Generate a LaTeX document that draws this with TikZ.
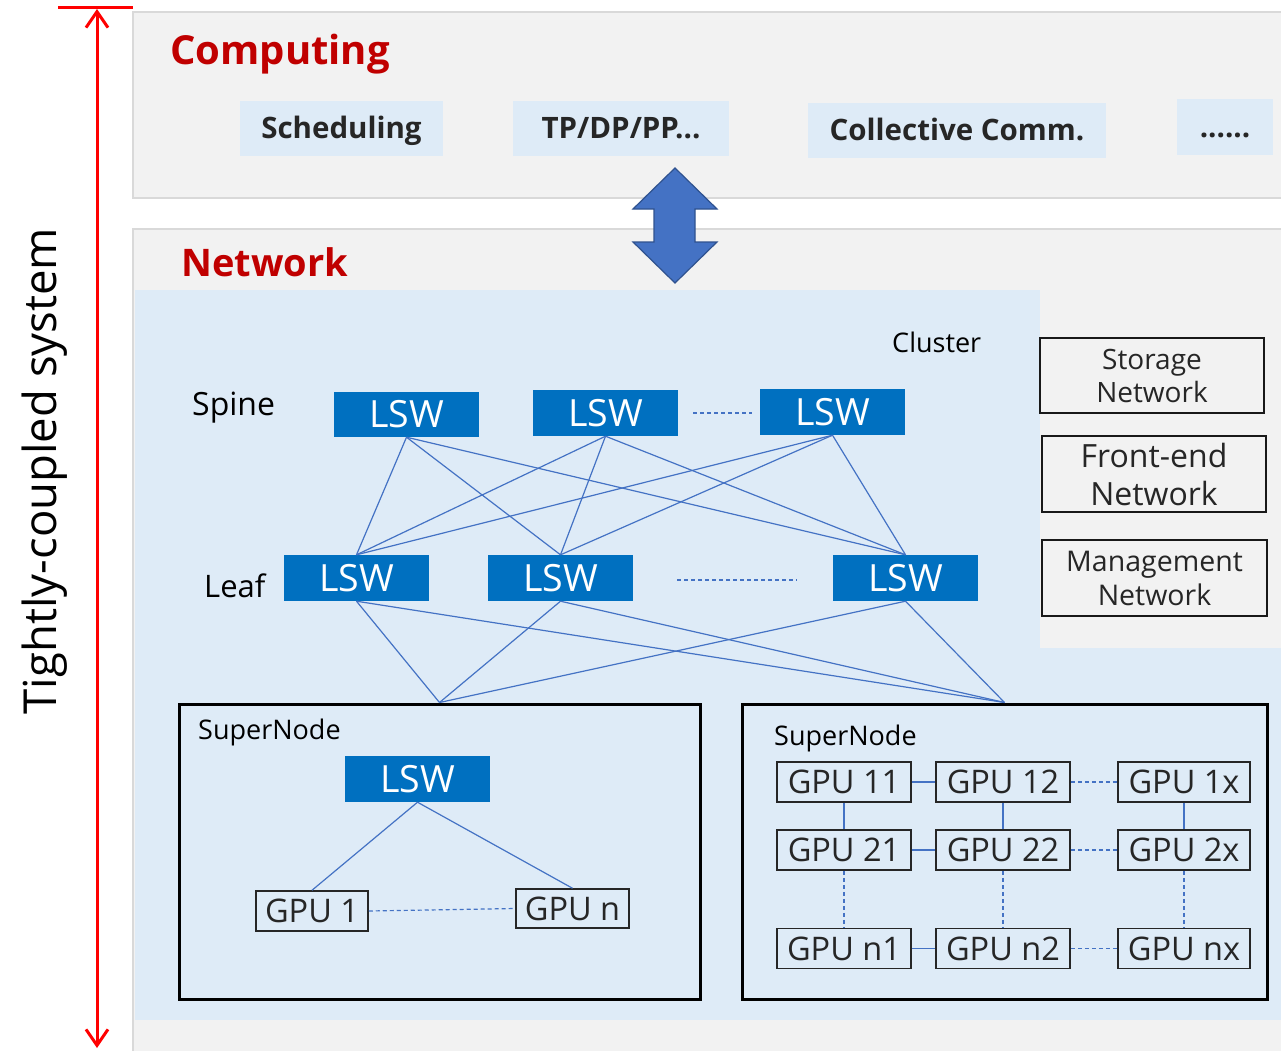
\documentclass[tikz,border=0pt]{standalone}
\usepackage{fontspec}
\setmainfont{Open Sans}
\usetikzlibrary{arrows.meta}
\definecolor{panelgray}{HTML}{F2F2F2}
\definecolor{panelrule}{HTML}{D9D9D9}
\definecolor{paleblue}{HTML}{DEEBF7}
\definecolor{lswblue}{HTML}{0070C0}
\definecolor{linkblue}{HTML}{4472C4}
\definecolor{arrowrim}{HTML}{2F528F}
\definecolor{titlered}{HTML}{C00000}
\definecolor{inktext}{HTML}{262626}
\newcommand\fsz[2]{\fontsize{#1}{#2}\selectfont}
\begin{document}
\begin{tikzpicture}[x=1pt,y=-1pt,
  panel/.style={fill=panelgray, draw=panelrule, line width=2pt},
  task/.style={fill=paleblue, text=inktext, font=\bfseries\fsz{29.5}{35}, inner sep=0pt,
               text height=21pt, text depth=0pt},
  lsw/.style={fill=lswblue, text=white, font=\fsz{37.5}{44}, inner sep=0pt,
              minimum width=145pt, minimum height=46pt},
  gpu/.style={draw=inktext, line width=1.5pt, text=inktext, font=\fsz{32.5}{38},
              inner sep=0pt, minimum width=134pt, minimum height=40pt},
  link/.style={draw=linkblue, line width=1.2pt},
  dlink/.style={link, dash pattern=on 4pt off 3pt},
  group/.style={draw=black, line width=3pt, inner sep=0pt},
  netbox/.style={draw=black!90, line width=2.5pt, align=center, inner sep=0pt, text=inktext},
  tag/.style={inner sep=0pt, text=black},
  title/.style={inner sep=0pt, text=titlered, font=\bfseries\fsz{40}{48}}
]
\useasboundingbox (0,0) rectangle (1281,1051);

% layer panels
\draw[panel] (133,12) rectangle (1295,198);
\draw[panel] (133,229) rectangle (1295,1065);
\fill[paleblue] (135,290) rectangle (1281,1020);
\fill[panelgray] (1040,290) rectangle (1281,648);

% height marker of the tightly-coupled system
\draw[red, line width=3pt] (58,8) -- (133,8);
\coordinate (mtop) at (97,9);
\coordinate (mbot) at (97,1048);
\draw[red, line width=3pt, {Straight Barb[length=16pt,width=22pt]}-{Straight Barb[length=16pt,width=22pt]}] (mtop) -- (mbot);
\node[rotate=90, anchor=base, inner sep=0pt, font=\fsz{45.5}{55}] (tcs) at (56,471) {Tightly-coupled system};

% computing layer
\node[title, anchor=base west] (comp) at (170,65) {Computing};
\node[task, minimum width=203pt, minimum height=55pt] (sched) at (341.5,128.5) {Scheduling};
\node[task, minimum width=216pt, minimum height=55pt] (par) at (621,128.5) {TP/DP/PP...};
\node[task, minimum width=298pt, minimum height=55pt] (coll) at (957,130.5) {Collective Comm.};
\node[task, minimum width=96pt, minimum height=56pt] (more) at (1225,127) {......};

% link between the layers
\draw[fill=linkblue, draw=arrowrim, line width=1.2pt]
  (675,168) -- (717,209) -- (695,209) -- (695,242) -- (717,242) -- (675,283)
  -- (633,242) -- (654,242) -- (654,209) -- (633,209) -- cycle;

% network layer
\node[title, anchor=base west, font=\bfseries\fsz{38}{46}] (net) at (181,276) {Network};
\node[tag, anchor=base west, font=\fsz{27}{32}] (clu) at (892,352) {Cluster};
\node[tag, anchor=base west, font=\fsz{32}{38}] (spine) at (192,415) {Spine};
\node[tag, anchor=base west, font=\fsz{31}{37}] (leaf) at (204,597) {Leaf};

\node[lsw, minimum height=45pt] (s1) at (406.5,414.5) {LSW};
\node[lsw] (s2) at (605.5,413) {LSW};
\node[lsw] (s3) at (832.5,412) {LSW};
\node[lsw] (l1) at (356.5,578) {LSW};
\node[lsw] (l2) at (560.5,578) {LSW};
\node[lsw] (l3) at (905.5,578) {LSW};

\coordinate (sgapa) at (693,413);
\coordinate (sgapb) at (752,413);
\coordinate (lgapa) at (677,580);
\coordinate (lgapb) at (797,580);
\draw[dlink] (sgapa) -- (sgapb);
\draw[dlink] (lgapa) -- (lgapb);

\node[group, minimum width=521pt, minimum height=295pt] (sn1) at (439.5,851.5) {};
\node[group, minimum width=525pt, minimum height=295pt] (sn2) at (1004.5,851.5) {};

\foreach \s in {s1,s2,s3}
  \foreach \l in {l1,l2,l3}
    \draw[link] (\s.south) -- (\l.north);
\foreach \l in {l1,l2,l3}
  \foreach \g in {sn1,sn2}
    \draw[link] (\l.south) -- (\g.north);

% side networks
\node[netbox, minimum width=224pt, minimum height=75pt, font=\fsz{28}{33}] (stor) at (1152,375.5) {Storage\\Network};
\node[netbox, minimum width=224pt, minimum height=76pt, font=\fsz{32}{38}] (front) at (1154,474) {Front-end\\Network};
\node[netbox, minimum width=225pt, minimum height=76pt, font=\fsz{28.5}{34}] (mgmt) at (1154.5,578) {Management\\Network};

% first SuperNode
\node[tag, anchor=base west, font=\fsz{27}{32}] (snt1) at (198,739) {SuperNode};
\node[lsw] (snl) at (417.5,779) {LSW};
\node[gpu, minimum width=112pt] (g1) at (312,911) {GPU 1};
\node[gpu, minimum width=113pt, minimum height=39pt] (gn) at (572.5,908.5) {GPU n};
\draw[link] (snl.south) -- (g1.north);
\draw[link] (snl.south) -- (gn.north);
\draw[dlink] (g1.east) -- (gn.west);

% second SuperNode
\node[tag, anchor=base west, font=\fsz{27}{32}] (snt2) at (774,745) {SuperNode};
\node[gpu] (g11) at (844,782) {GPU 11};
\node[gpu] (g12) at (1003,782) {GPU 12};
\node[gpu, minimum width=132pt] (g1x) at (1184,782) {GPU 1x};
\node[gpu] (g21) at (844,850) {GPU 21};
\node[gpu] (g22) at (1003,850) {GPU 22};
\node[gpu, minimum width=132pt] (g2x) at (1184,850) {GPU 2x};
\node[gpu] (gn1) at (844,948.5) {GPU n1};
\node[gpu] (gn2) at (1003,948.5) {GPU n2};
\node[gpu, minimum width=132pt] (gnx) at (1184,948.5) {GPU nx};

\foreach \r in {1,2,n} {
  \draw[link] (g\r1.east) -- (g\r2.west);
  \draw[dlink] (g\r2.east) -- (g\r x.west);
}
\foreach \c in {1,2,x} {
  \draw[link] (g1\c.south) -- (g2\c.north);
  \draw[dlink] (g2\c.south) -- (gn\c.north);
}
\end{tikzpicture}
\end{document}
